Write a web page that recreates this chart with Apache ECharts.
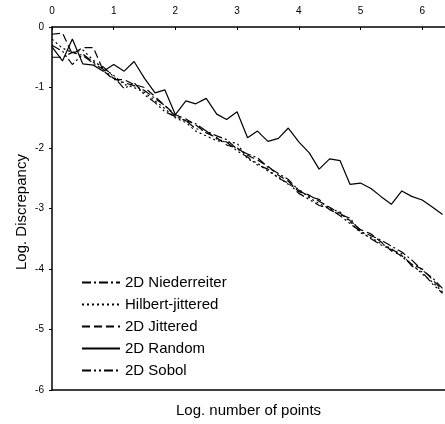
<!DOCTYPE html>
<html>
<head>
    <meta charset="utf-8">
    <script src="https://cdn.jsdelivr.net/npm/echarts@6/dist/echarts.min.js"></script>
    <style>
        body { margin: 0; background: #fff; }
    </style>
</head>
<body>
    <div id="main" style="width: 445px;height:424px;"></div>
    <script>
        // log10 of number of points (1/6 steps)
        const xs = [0, 0.17, 0.33, 0.5, 0.67, 0.83, 1, 1.17, 1.33, 1.5, 1.67, 1.83, 2, 2.17, 2.33, 2.5, 2.67, 2.83,
            3, 3.17, 3.33, 3.5, 3.67, 3.83, 4, 4.17, 4.33, 4.5, 4.67, 4.83, 5, 5.17, 5.33, 5.5, 5.67, 5.83, 6, 6.17, 6.33];

        const niederreiter = [-0.50, -0.50, -0.42, -0.47, -0.60, -0.70, -0.85, -0.92, -0.97, -1.05, -1.18, -1.30, -1.47,
            -1.55, -1.60, -1.72, -1.80, -1.86, -2.02, -2.10, -2.16, -2.32, -2.42, -2.52, -2.70, -2.80, -2.85, -3.02,
            -3.10, -3.16, -3.38, -3.45, -3.52, -3.62, -3.72, -3.85, -4.02, -4.15, -4.32];
        const hilbert = [-0.20, -0.35, -0.42, -0.38, -0.55, -0.68, -0.80, -0.95, -1.00, -1.08, -1.22, -1.35, -1.50,
            -1.58, -1.72, -1.80, -1.88, -1.90, -1.92, -2.18, -2.25, -2.38, -2.48, -2.60, -2.68, -2.82, -2.92, -3.00,
            -3.06, -3.22, -3.40, -3.48, -3.58, -3.66, -3.80, -3.92, -4.08, -4.22, -4.38];
        const jittered = [-0.12, -0.10, -0.45, -0.34, -0.34, -0.72, -0.87, -0.87, -0.95, -1.00, -1.15, -1.30, -1.45,
            -1.52, -1.62, -1.75, -1.83, -1.95, -2.00, -2.12, -2.20, -2.30, -2.45, -2.55, -2.72, -2.78, -2.88, -2.98,
            -3.08, -3.20, -3.35, -3.42, -3.55, -3.70, -3.78, -3.92, -4.00, -4.18, -4.35];
        const random = [-0.33, -0.56, -0.20, -0.61, -0.63, -0.73, -0.62, -0.73, -0.57, -0.85, -1.09, -1.04, -1.45,
            -1.22, -1.27, -1.18, -1.44, -1.53, -1.40, -1.83, -1.72, -1.89, -1.84, -1.67, -1.90, -2.08, -2.35, -2.18,
            -2.21, -2.60, -2.58, -2.67, -2.80, -2.93, -2.71, -2.80, -2.86, -2.98, -3.10];
        const sobol = [-0.30, -0.40, -0.62, -0.45, -0.58, -0.66, -0.82, -1.02, -0.92, -1.12, -1.25, -1.40, -1.48,
            -1.55, -1.68, -1.72, -1.85, -1.90, -2.05, -2.15, -2.28, -2.35, -2.50, -2.58, -2.75, -2.85, -2.95, -3.00,
            -3.12, -3.25, -3.38, -3.50, -3.60, -3.68, -3.75, -3.95, -4.05, -4.25, -4.40];

        const xTicks = [0, 1, 2, 3, 4, 5, 6];

        function pairs(ys) {
            return ys.map(function (y, i) { return [xs[i], y]; });
        }

        function mkSeries(name, ys, dash, width) {
            return {
                name: name,
                type: 'line',
                data: pairs(ys),
                showSymbol: false,
                symbol: 'none',
                lineStyle: { color: '#000', width: width, type: dash },
                itemStyle: { color: '#000' }
            };
        }

        const chart = echarts.init(document.getElementById('main'));
        const font = 'Arial';

        const option = {
            animation: false,
            backgroundColor: '#fff',
            grid: {
                left: 52, right: 0, top: 27, bottom: 34,
                outerBoundsMode: 'none'
            },
            graphic: [{
                type: 'text',
                left: 176,
                top: 403,
                style: { text: 'Log. number of points', fontSize: 15, fill: '#000', fontFamily: font }
            }, {
                type: 'text',
                x: 14,
                y: 270,
                rotation: Math.PI / 2,
                style: { text: 'Log. Discrepancy', fontSize: 15, fill: '#000', fontFamily: font }
            }],
            legend: {
                orient: 'vertical',
                left: 76,
                top: 270,
                itemWidth: 38,
                itemHeight: 14,
                itemGap: 7,
                itemStyle: { opacity: 0 },
                textStyle: { fontSize: 15, color: '#000', fontFamily: font },
                data: ['2D Niederreiter', 'Hilbert-jittered', '2D Jittered', '2D Random', '2D Sobol']
            },
            xAxis: [{
                type: 'value',
                position: 'top',
                min: 0,
                max: 6.37,
                interval: 1,
                axisLine: { onZero: false, lineStyle: { color: '#000', width: 1.5 } },
                axisTick: { inside: true, length: 3, lineStyle: { color: '#000' } },
                axisLabel: {
                    margin: 11, fontSize: 10, color: '#000', fontFamily: font,
                    formatter: function (v) { return xTicks.indexOf(v) >= 0 ? String(v) : ''; }
                },
                splitLine: { show: false }
            }, {
                type: 'value',
                position: 'bottom',
                min: 0,
                max: 6.37,
                axisLine: { onZero: false, lineStyle: { color: '#000', width: 1.5 } },
                axisTick: { show: false },
                axisLabel: { show: false },
                splitLine: { show: false }
            }],
            yAxis: {
                type: 'value',
                min: -6,
                max: 0,
                interval: 1,
                axisLine: { onZero: false, lineStyle: { color: '#000', width: 1.5 } },
                axisTick: { length: 3, lineStyle: { color: '#000' } },
                axisLabel: { margin: 8, fontSize: 10, color: '#000', fontFamily: font },
                splitLine: { show: false }
            },
            series: [
                mkSeries('2D Niederreiter', niederreiter, [9, 3, 2, 3], 1.2),
                mkSeries('Hilbert-jittered', hilbert, [2, 3], 1.2),
                mkSeries('2D Jittered', jittered, [8, 4], 1.2),
                mkSeries('2D Random', random, 'solid', 1.2),
                mkSeries('2D Sobol', sobol, [9, 3, 2, 3, 2, 3], 1.2)
            ]
        };

        chart.setOption(option);
    </script>
</body>
</html>
